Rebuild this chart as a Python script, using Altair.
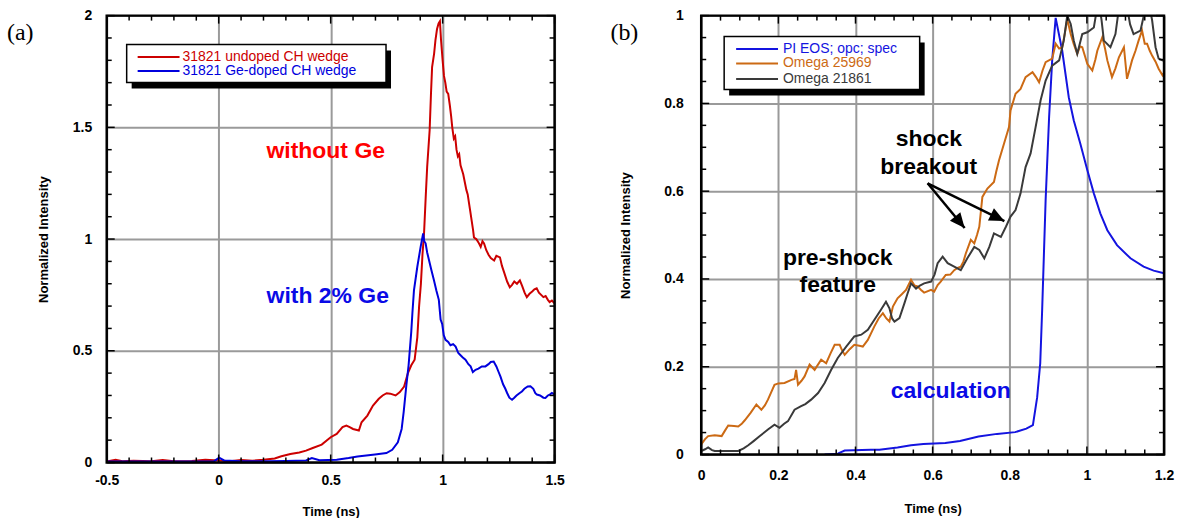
import altair as alt
import pandas as pd
import numpy as np

# ---------------- Panel (a) data ----------------
a_red_x = [-0.5, -0.46, -0.43, -0.38, -0.3, -0.25, -0.2, -0.12, -0.06, 0.0, 0.05, 0.1, 0.15, 0.2, 0.25,
           0.28, 0.32, 0.36, 0.39, 0.42, 0.46, 0.5, 0.527, 0.553, 0.57, 0.585, 0.6, 0.626, 0.638, 0.664,
           0.689, 0.715, 0.732, 0.75, 0.766, 0.79, 0.809, 0.828, 0.845, 0.86, 0.875, 0.887, 0.895, 0.903,
           0.91, 0.917, 0.925, 0.931, 0.942, 0.948, 0.953, 0.962, 0.968, 0.975, 0.982, 0.988,
           0.993, 1.0, 1.006, 1.012, 1.018, 1.025, 1.032, 1.038, 1.043, 1.05, 1.056, 1.062, 1.068, 1.074,
           1.08, 1.086, 1.092, 1.1, 1.106, 1.112, 1.118, 1.123, 1.13, 1.136, 1.14, 1.15, 1.16, 1.17, 1.178,
           1.185, 1.195, 1.205, 1.215, 1.23, 1.24, 1.256, 1.265, 1.275, 1.288, 1.3, 1.31, 1.32, 1.332,
           1.345, 1.355, 1.366, 1.376, 1.388, 1.4, 1.41, 1.42, 1.43, 1.44, 1.45, 1.46, 1.47, 1.478,
           1.488, 1.5]
a_red_y = [0.005, 0.012, 0.006, 0.008, 0.006, 0.011, 0.006, 0.007, 0.012, 0.009, 0.006, 0.011, 0.008, 0.012, 0.018,
           0.028, 0.038, 0.045, 0.053, 0.065, 0.08, 0.113, 0.128, 0.158, 0.165, 0.158, 0.15, 0.143, 0.18, 0.21,
           0.255, 0.285, 0.3, 0.31, 0.308, 0.3, 0.315, 0.34, 0.4, 0.435, 0.46, 0.56, 0.7, 0.8,
           0.93, 1.025, 1.2, 1.323, 1.487, 1.65, 1.77, 1.83, 1.89, 1.94, 1.965, 1.975,
           1.89, 1.8, 1.73, 1.7, 1.66, 1.65, 1.6, 1.55, 1.5, 1.45, 1.46, 1.4, 1.37, 1.38,
           1.33, 1.31, 1.29, 1.25, 1.22, 1.2, 1.16, 1.127, 1.08, 1.04, 1.007, 1.0, 0.985, 0.965, 0.99,
           0.98, 0.95, 0.93, 0.915, 0.904, 0.925, 0.918, 0.88, 0.85, 0.81, 0.784, 0.795, 0.81, 0.8,
           0.815, 0.79, 0.76, 0.74, 0.755, 0.765, 0.775, 0.78, 0.76, 0.75, 0.74, 0.745, 0.728, 0.718,
           0.725, 0.712]

a_blue_x = [-0.5, -0.4, -0.3, -0.2, -0.1, -0.02, 0.002, 0.024, 0.1, 0.22, 0.3, 0.39, 0.416, 0.45, 0.527,
            0.58, 0.62, 0.698, 0.749, 0.775, 0.8, 0.817, 0.826, 0.838, 0.848, 0.86, 0.865, 0.872, 0.887,
            0.902, 0.913, 0.918, 0.924, 0.931, 0.939, 0.95, 0.961, 0.972, 0.983, 0.991, 0.998, 1.005,
            1.013, 1.025, 1.035, 1.047, 1.058, 1.07, 1.08, 1.09, 1.102, 1.115, 1.125, 1.135, 1.147,
            1.16, 1.175, 1.191, 1.205, 1.215, 1.228, 1.24, 1.25, 1.258, 1.27, 1.28, 1.288, 1.298, 1.31,
            1.32, 1.33, 1.343, 1.354, 1.365, 1.38, 1.392, 1.405, 1.414, 1.421, 1.435, 1.45, 1.459,
            1.47, 1.48, 1.488, 1.5]
a_blue_y = [0.004, 0.005, 0.004, 0.005, 0.004, 0.006, 0.022, 0.009, 0.006, 0.006, 0.007, 0.009, 0.02, 0.01, 0.012,
            0.02, 0.027, 0.036, 0.042, 0.057, 0.09, 0.15, 0.225, 0.345, 0.435, 0.586, 0.668, 0.77, 0.876,
            0.966, 1.025, 0.99, 0.981, 0.94, 0.906, 0.86, 0.817, 0.77, 0.728, 0.64, 0.62, 0.57,
            0.549, 0.54, 0.525, 0.53, 0.519, 0.49, 0.48, 0.47, 0.46, 0.44, 0.43, 0.405, 0.415,
            0.42, 0.43, 0.43, 0.44, 0.45, 0.452, 0.43, 0.405, 0.385, 0.35, 0.33, 0.311, 0.29, 0.281,
            0.29, 0.3, 0.31, 0.318, 0.33, 0.34, 0.341, 0.33, 0.31, 0.304, 0.3, 0.29, 0.289,
            0.3, 0.305, 0.311, 0.305]

a_series = ["31821 undoped CH wedge", "31821 Ge-doped CH wedge"]
a_colors = ["#cc0000", "#0000dd"]

# ---------------- Panel (b) data ----------------
b_calc_x = [0.32, 0.354, 0.372, 0.44, 0.462, 0.509, 0.544, 0.576, 0.633, 0.671, 0.719, 0.767, 0.814, 0.843,
            0.86, 0.871, 0.879, 0.884, 0.893, 0.902, 0.91, 0.919, 0.936, 0.953, 0.966, 0.983, 1.001, 1.018,
            1.035, 1.053, 1.078, 1.113, 1.147, 1.173, 1.2]
b_calc_y = [0.0, 0.002, 0.009, 0.011, 0.011, 0.016, 0.021, 0.024, 0.026, 0.031, 0.041, 0.047, 0.051, 0.059,
            0.067, 0.13, 0.208, 0.33, 0.58, 0.769, 0.898, 0.995, 0.92, 0.814, 0.761, 0.708, 0.648, 0.595,
            0.549, 0.511, 0.477, 0.447, 0.428, 0.419, 0.413]

b_o25969_x = [0.0, 0.01, 0.018, 0.035, 0.053, 0.062, 0.07, 0.085, 0.096, 0.105, 0.113, 0.128, 0.143, 0.156,
              0.165, 0.173, 0.19, 0.2, 0.216, 0.234, 0.242, 0.246, 0.251, 0.26, 0.268, 0.281, 0.294, 0.311,
              0.324, 0.335, 0.346, 0.359, 0.365, 0.372, 0.385, 0.397, 0.41, 0.419, 0.432, 0.449, 0.46,
              0.471, 0.48, 0.488, 0.497, 0.509, 0.52, 0.531, 0.544, 0.553, 0.561, 0.57, 0.578, 0.596,
              0.604, 0.613, 0.621, 0.634, 0.646, 0.656, 0.665, 0.673, 0.68, 0.686, 0.699, 0.708, 0.715,
              0.721, 0.729, 0.742, 0.759, 0.765, 0.772, 0.785, 0.798, 0.802, 0.815, 0.828, 0.841, 0.859,
              0.868, 0.876, 0.885, 0.893, 0.91, 0.919, 0.928, 0.936, 0.943, 0.949, 0.958, 0.966, 0.975,
              0.982, 0.988, 1.001, 1.014, 1.022, 1.027, 1.04, 1.047, 1.053, 1.065, 1.074, 1.083, 1.096,
              1.104, 1.11, 1.117, 1.126, 1.134, 1.143, 1.15, 1.156, 1.163, 1.169, 1.178, 1.186, 1.196, 1.2]
b_o25969_y = [0.023, 0.035, 0.042, 0.044, 0.042, 0.055, 0.066, 0.065, 0.064, 0.07, 0.078, 0.095, 0.114, 0.102,
              0.112, 0.125, 0.159, 0.162, 0.163, 0.17, 0.172, 0.193, 0.159, 0.168, 0.178, 0.205, 0.193, 0.216,
              0.208, 0.23, 0.25, 0.25, 0.238, 0.227, 0.24, 0.25, 0.248, 0.246, 0.261, 0.292, 0.31,
              0.322, 0.31, 0.303, 0.337, 0.356, 0.365, 0.375, 0.398, 0.385, 0.383, 0.375, 0.369, 0.375,
              0.371, 0.386, 0.394, 0.409, 0.41, 0.42, 0.425, 0.428, 0.44, 0.458, 0.489, 0.481, 0.5,
              0.519, 0.587, 0.606, 0.621, 0.645, 0.67, 0.708, 0.746, 0.784, 0.822, 0.833, 0.86, 0.871,
              0.86, 0.848, 0.875, 0.894, 0.902, 0.936, 0.925, 0.928, 0.96, 0.992, 0.958, 0.935, 0.913,
              0.93, 0.928, 0.89, 0.875, 0.9, 0.92, 0.951, 0.925, 0.898, 0.86, 0.88, 0.905, 0.928,
              0.856, 0.875, 0.898, 0.92, 0.943, 0.966, 0.936, 0.936, 0.92, 0.909, 0.895, 0.879, 0.864, 0.87]

b_o21861_x = [0.0, 0.01, 0.018, 0.028, 0.035, 0.06, 0.096, 0.11, 0.122, 0.135, 0.152, 0.173, 0.19, 0.203,
              0.215, 0.225, 0.242, 0.259, 0.27, 0.285, 0.303, 0.32, 0.337, 0.354, 0.376, 0.397, 0.415,
              0.432, 0.449, 0.466, 0.479, 0.488, 0.495, 0.501, 0.514, 0.527, 0.535, 0.544, 0.557, 0.567,
              0.578, 0.596, 0.605, 0.613, 0.626, 0.639, 0.656, 0.673, 0.69, 0.708, 0.721, 0.734, 0.747,
              0.759, 0.777, 0.79, 0.802, 0.815, 0.828, 0.841, 0.854, 0.867, 0.88, 0.893, 0.91, 0.928,
              0.94, 0.949, 0.958, 0.966, 0.975, 0.988, 1.001, 1.018, 1.025, 1.031, 1.038, 1.044, 1.061,
              1.074, 1.085, 1.095, 1.104, 1.112, 1.121, 1.139, 1.15, 1.16, 1.169, 1.178, 1.186, 1.196, 1.2]
b_o21861_y = [0.008, 0.012, 0.016, 0.01, 0.008, 0.008, 0.008, 0.014, 0.021, 0.03, 0.042, 0.057, 0.068, 0.061,
              0.07, 0.076, 0.102, 0.11, 0.115, 0.125, 0.14, 0.163, 0.193, 0.22, 0.246, 0.269, 0.273,
              0.284, 0.307, 0.33, 0.348, 0.333, 0.31, 0.303, 0.311, 0.345, 0.367, 0.39, 0.378, 0.385,
              0.39, 0.394, 0.41, 0.436, 0.451, 0.436, 0.428, 0.42, 0.447, 0.473, 0.466, 0.447, 0.473,
              0.504, 0.496, 0.519, 0.542, 0.557, 0.595, 0.655, 0.686, 0.746, 0.807, 0.852, 0.886, 0.898,
              0.943, 1.0, 0.981, 0.943, 0.913, 0.958, 0.962, 0.973, 1.01, 1.03, 0.99, 0.943, 0.928,
              0.958, 1.03, 1.04, 1.02, 0.98, 0.958, 0.966, 1.01, 1.03, 0.99, 0.928, 0.902, 0.898, 0.9]

b_series = ["PI EOS; opc; spec", "Omega 25969", "Omega 21861"]
b_colors = ["#1414e0", "#cc6a14", "#3a3a3a"]

# axis tick values
a_xticks = [-0.5, 0, 0.5, 1, 1.5]
a_yticks = [0, 0.5, 1, 1.5, 2]
b_xticks = [0, 0.2, 0.4, 0.6, 0.8, 1, 1.2]
b_yticks = [0, 0.2, 0.4, 0.6, 0.8, 1]


def minor(lo, hi, step, majors):
    vals = np.round(np.arange(lo, hi + step / 2, step), 3)
    return [float(v) for v in vals if not any(abs(v - m) < 1e-6 for m in majors)]


a_xminor = minor(-0.5, 1.5, 0.1, a_xticks)
a_yminor = minor(0, 2, 0.1, a_yticks)
b_xminor = minor(0, 1.2, 0.05, b_xticks)
b_yminor = minor(0, 1, 0.05, b_yticks)

FONT = "Liberation Sans"
ONE = pd.DataFrame({"k": [0]})
tag_x = {"(a)": -100, "(b)": -91}


def long_df(xs_list, ys_list, names):
    frames = []
    for xs, ys, n in zip(xs_list, ys_list, names):
        frames.append(pd.DataFrame({"x": xs, "y": ys, "series": n, "i": range(len(xs))}))
    return pd.concat(frames, ignore_index=True)


def panel(df, series, colors, xdom, ydom, xticks, yticks, xminor, yminor, W, H,
          xlabpad, ylabpad, xtitle_y, ytitle_x, legend_box, legend_rows, legend_line, legend_tx,
          tag, texts, extra=None):
    xsc = alt.Scale(domain=xdom, nice=False, zero=False)
    ysc = alt.Scale(domain=ydom, nice=False, zero=False)
    common = dict(labelFont=FONT, labelFontSize=14, labelFontWeight="bold", labelColor="black",
                  titleFont=FONT, titleFontSize=13, titleFontWeight="bold", titleColor="black",
                  grid=True, gridColor="#9a9a9a", gridWidth=2, ticks=False, domain=False,
                  labelFlush=False, labelOverlap=False, labelExpr="'' + datum.value")
    xaxis = alt.Axis(values=xticks, title="Time (ns)", labelPadding=xlabpad,
                     titleX=W / 2, titleY=xtitle_y, titleBaseline="middle", titleAlign="center", **common)
    yaxis = alt.Axis(values=yticks, title="Normalized Intensity", labelPadding=ylabpad,
                     titleX=ytitle_x, titleY=H / 2, titleBaseline="middle", titleAlign="center",
                     titleAngle=270, **common)
    X = lambda f: alt.X(f, scale=xsc, axis=xaxis, title="Time (ns)")
    Y = lambda f: alt.Y(f, scale=ysc, axis=yaxis, title="Normalized Intensity")

    layers = []
    lines = alt.Chart(df).mark_line(strokeWidth=2, clip=True).encode(
        x=X("x:Q"), y=Y("y:Q"),
        color=alt.Color("series:N", scale=alt.Scale(domain=series, range=colors), legend=None),
        order=alt.Order("i:Q"),
    )
    layers.append(lines)

    # minor / major tick marks, pointing inward on all four sides
    for vals, L in ((xminor, 5), (xticks, 8)):
        d = pd.DataFrame({"x": vals})
        r = alt.Chart(d).mark_rule(color="black", strokeWidth=1.5)
        layers.append(r.encode(x=X("x:Q"), y=alt.value(H), y2=alt.value(H - L)))
        layers.append(r.encode(x=X("x:Q"), y=alt.value(0), y2=alt.value(L)))
    for vals, L in ((yminor, 5), (yticks, 8)):
        d = pd.DataFrame({"y": vals})
        r = alt.Chart(d).mark_rule(color="black", strokeWidth=1.5)
        layers.append(r.encode(y=Y("y:Q"), x=alt.value(0), x2=alt.value(L)))
        layers.append(r.encode(y=Y("y:Q"), x=alt.value(W), x2=alt.value(W - L)))

    # legend box with drop shadow
    bx0, by0, bx1, by1 = legend_box
    layers.append(alt.Chart(ONE).mark_rect(color="black").encode(
        x=alt.value(bx0 + 5), x2=alt.value(bx1 + 5), y=alt.value(by0 + 6), y2=alt.value(by1 + 6)))
    layers.append(alt.Chart(ONE).mark_rect(fill="white", stroke="black", strokeWidth=1.5).encode(
        x=alt.value(bx0), x2=alt.value(bx1), y=alt.value(by0), y2=alt.value(by1)))
    lx0, lx1 = legend_line
    for s, c, yy in zip(series, colors, legend_rows):
        layers.append(alt.Chart(ONE).mark_rule(color=c, strokeWidth=2).encode(
            x=alt.value(lx0), x2=alt.value(lx1), y=alt.value(yy)))
        layers.append(alt.Chart(ONE).mark_text(text=s, color=c, font=FONT, fontSize=14,
                                               align="left", baseline="middle").encode(
            x=alt.value(legend_tx), y=alt.value(yy)))

    # annotations in data coordinates
    for tdf, color in texts:
        layers.append(alt.Chart(tdf).mark_text(font=FONT, fontSize=23, fontWeight="bold", color=color,
                                               align="center", baseline="middle").encode(
            x=X("x:Q"), y=Y("y:Q"), text="text:N"))
    if extra is not None:
        layers.extend(extra(X, Y))

    # panel tag
    layers.append(alt.Chart(ONE).mark_text(text=tag, font="Liberation Serif", fontSize=24,
                                           align="left", baseline="middle", color="black").encode(
        x=alt.value(tag_x[tag]), y=alt.value(17)))
    # frame
    layers.append(alt.Chart(ONE).mark_rect(fillOpacity=0, stroke="black", strokeWidth=2.5).encode(
        x=alt.value(0), x2=alt.value(W), y=alt.value(0), y2=alt.value(H)))
    return alt.layer(*layers).properties(width=W, height=H)


# ---- panel (a) ----
dfa = long_df([a_red_x, a_blue_x], [a_red_y, a_blue_y], a_series)
a_texts = [
    (pd.DataFrame({"x": [0.478], "y": [1.393], "text": ["without Ge"]}), "#ff0000"),
    (pd.DataFrame({"x": [0.487], "y": [0.746], "text": ["with 2% Ge"]}), "#0a0ae6"),
]
chart_a = panel(dfa, a_series, a_colors, [-0.5, 1.5], [0, 2], a_xticks, a_yticks, a_xminor, a_yminor,
                449, 448, 11, 15, 49, -63, (20, 29, 280, 67), [41.5, 55.5], (31, 73), 76,
                "(a)", a_texts)

# ---- panel (b) ----
dfb = long_df([b_calc_x, b_o25969_x, b_o21861_x], [b_calc_y, b_o25969_y, b_o21861_y], b_series)
b_texts = [
    (pd.DataFrame({"x": [0.59, 0.59], "y": [0.718, 0.655], "text": ["shock", "breakout"]}), "black"),
    (pd.DataFrame({"x": [0.354, 0.354], "y": [0.448, 0.386], "text": ["pre-shock", "feature"]}), "black"),
    (pd.DataFrame({"x": [0.647], "y": [0.144], "text": ["calculation"]}), "#0a0ae6"),
]

arrow_x0 = [0.587, 0.587]
arrow_y0 = [0.618, 0.618]
arrow_x1 = [0.683, 0.786]
arrow_y1 = [0.516, 0.532]
arrow_angle = [140.6, 116.3]


def arrows(X, Y):
    d = pd.DataFrame({"x": arrow_x0, "y": arrow_y0, "x2": arrow_x1, "y2": arrow_y1, "ang": arrow_angle})
    shaft = alt.Chart(d).mark_rule(color="black", strokeWidth=2.5).encode(
        x=X("x:Q"), y=Y("y:Q"), x2="x2:Q", y2="y2:Q")
    head = alt.Chart(d).mark_point(shape="M0,0L-0.45,1L0.45,1Z", filled=True, color="black",
                                   size=900, opacity=1).encode(
        x=X("x2:Q"), y=Y("y2:Q"),
        angle=alt.Angle("ang:Q", scale=None))
    return [shaft, head]


chart_b = panel(dfb, b_series, b_colors, [0, 1.2], [0, 1], b_xticks, b_yticks, b_xminor, b_yminor,
                464, 440, 14, 18, 54, -76, (23, 21, 219, 74), [33.5, 48, 63.5], (35, 77), 82,
                "(b)", b_texts, extra=arrows)

chart = alt.hconcat(chart_a, chart_b, spacing=147, bounds="flush").resolve_scale(
    color="independent"
).properties(
    padding={"left": 7, "top": 8, "right": 5, "bottom": 5},
    background="white",
).configure_view(strokeWidth=0)

chart.save("out.html", embed_options={"renderer": "svg", "actions": False})
